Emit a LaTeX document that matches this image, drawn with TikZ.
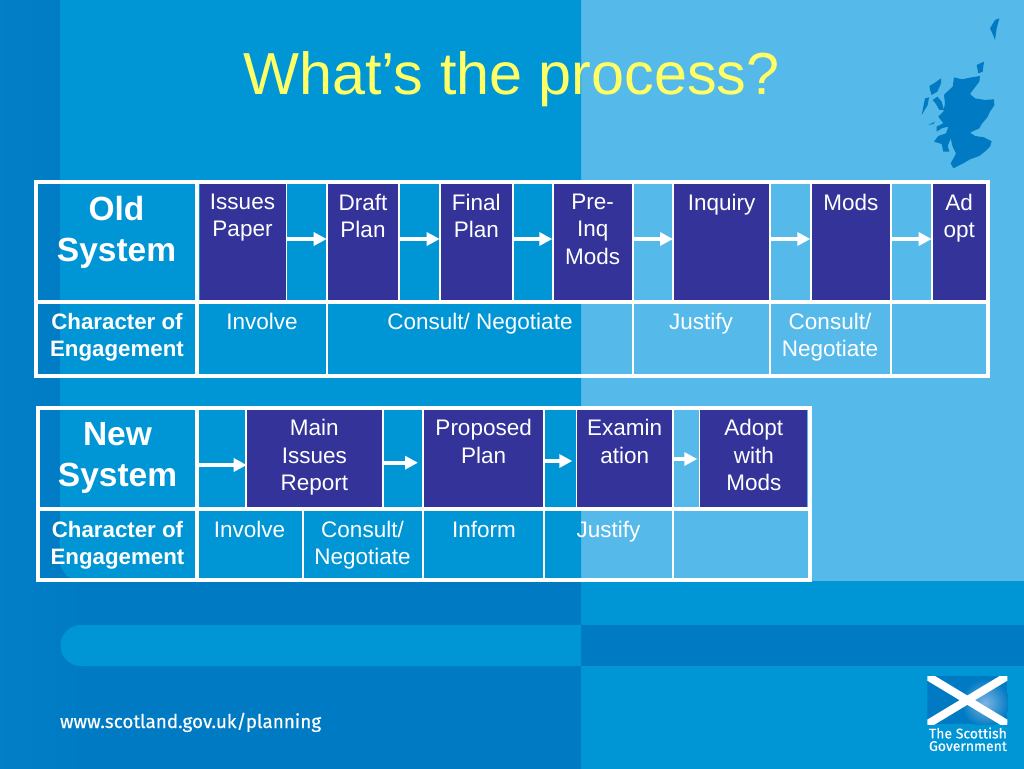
\documentclass[tikz,border=0pt]{standalone}
\usepackage{fontspec}
\usepackage{tikz}
\usetikzlibrary{arrows.meta}
\setmainfont{Liberation Sans}
\newfontfamily\webfont[FakeBold=0.35]{Fira Sans}
\definecolor{midblue}{HTML}{0096D6}
\definecolor{darkblue}{HTML}{007BC3}
\definecolor{edgeblue}{HTML}{0280C8}
\definecolor{paleblue}{HTML}{55B9E9}
\definecolor{stagefill}{HTML}{333399}
\definecolor{titleyellow}{HTML}{FFFF66}
\definecolor{flagglow}{HTML}{7DB4E2}
\begin{document}
\begin{tikzpicture}[x=1pt,y=-1pt,
    every node/.style={text=white,inner sep=0,outer sep=0,align=center},
    cell/.style={font=\fontsize{22.5}{27.5}\selectfont,anchor=north},
    head/.style={font=\fontsize{33.5}{41.5}\selectfont\bfseries,anchor=north},
    side/.style={font=\fontsize{22.3}{27.5}\selectfont\bfseries,anchor=north},
    stage/.style={fill=stagefill,minimum width=#1},
    oldstage/.style={stage=#1pt,minimum height=115.5pt},
    newstage/.style={stage=#1pt,minimum height=96.7pt},
    oldcap/.style={cell,yshift=-10pt},
    newcap/.style={cell,yshift=-9.5pt},
    frame/.style={draw=white,line width=4pt},
    thin/.style={draw=white,line width=1.8pt},
    flow/.style={draw=white,line width=3.6pt,-{Triangle[length=13pt,width=13pt]}}]
        \useasboundingbox (0,0) rectangle (1024,768);
        \fill[darkblue] (0,0) rectangle (581,770);
        \shade[left color=edgeblue,right color=darkblue] (-30,0) rectangle (90,770);
        \fill[paleblue] (581,0) rectangle (1026,581);
        \fill[midblue] (581,581) rectangle (1026,770);
        \fill[darkblue] (581,625) rectangle (1026,666);
        \fill[midblue] (60,0) -- (581,0) -- (581,581) -- (81,581) arc (90:180:21) -- cycle;
        \fill[midblue] (81,625) -- (581,625) -- (581,666) -- (81,666) arc (90:270:20.5) -- cycle;

        \node[font=\fontsize{59.3}{60}\selectfont,text=titleyellow,anchor=base] (title) at (511.5,94.5) {What’s the process?};

        \begin{scope}[shift={(880,0)},x=0.3333pt,y=-0.3333pt]
        \fill[darkblue] (222,232) -- (245,238) -- (270,233) -- (300,228) -- (298,245) -- (285,262) -- (270,282) -- (285,295) -- (315,300) -- (342,298) -- (343,316) -- (330,335) -- (322,352) -- (305,372) -- (298,385) -- (270,398) -- (285,408) -- (312,412) -- (335,424) -- (330,440) -- (318,452) -- (298,468) -- (270,478) -- (250,490) -- (220,505) -- (212,490) -- (222,472) -- (228,460) -- (218,440) -- (212,415) -- (203,438) -- (208,455) -- (190,455) -- (185,432) -- (162,425) -- (175,408) -- (198,400) -- (205,380) -- (185,385) -- (170,395) -- (170,380) -- (190,370) -- (175,350) -- (190,335) -- (195,310) -- (192,285) -- (205,272) -- (218,260) -- cycle;
        \fill[darkblue] (148,258) -- (165,248) -- (183,235) -- (183,250) -- (172,275) -- (155,285) -- (150,270) -- cycle;
        \fill[darkblue] (135,295) -- (147,292) -- (143,315) -- (125,345) -- (130,320) -- cycle;
        \fill[darkblue] (158,300) -- (172,290) -- (185,305) -- (192,330) -- (178,330) -- (168,312) -- cycle;
        \fill[darkblue] (145,375) -- (165,365) -- (160,372) -- cycle;
        \fill[darkblue] (345,60) -- (358,55) -- (350,85) -- (345,120) -- (335,95) -- (330,85) -- cycle;
        \fill[darkblue] (290,195) -- (312,185) -- (308,215) -- (295,220) -- cycle;
        \end{scope}

        \node[oldstage=86] (issues) at (242.5,241.75)
          [label={[oldcap,anchor=north]north:{Issues\\Paper}}] {};
        \node[oldstage=70.6] (draft) at (363,241.75)
          [label={[oldcap,anchor=north]north:{Draft\\Plan}}] {};
        \node[oldstage=71.3] (final) at (476.35,241.75)
          [label={[oldcap,anchor=north]north:{Final\\Plan}}] {};
        \node[oldstage=78.7] (preinq) at (592.65,241.75)
          [label={[oldcap,anchor=north]north:{Pre-\\Inq\\Mods}}] {};
        \node[oldstage=95.3] (inquiry) at (721.65,241.75)
          [label={[oldcap,anchor=north]north:{Inquiry}}] {};
        \node[oldstage=79] (mods) at (850.8,241.75)
          [label={[oldcap,anchor=north]north:{Mods}}] {};
        \node[oldstage=53] (adopt) at (959.2,241.75)
          [label={[oldcap,anchor=north]north:{Ad\\opt}}] {};

        \draw[thin] (286.5,184) -- (286.5,300) (326.8,184) -- (326.8,375) (399.2,184) -- (399.2,300)
          (439.8,184) -- (439.8,300) (512.8,184) -- (512.8,300) (552.6,184) -- (552.6,300)
          (632.8,184) -- (632.8,375) (673.2,184) -- (673.2,300) (770.2,184) -- (770.2,375)
          (810.6,184) -- (810.6,300) (891,184) -- (891,375) (932,184) -- (932,300);
        \draw[frame] (36,182) rectangle (987.7,375.6) (36,301.5) -- (987.7,301.5) (197.3,182) -- (197.3,375.6);

        \draw[flow] ([yshift=2.75pt]issues.east) -- ([yshift=2.75pt,xshift=-1pt]draft.west);
        \draw[flow] ([yshift=2.75pt]draft.east) -- ([yshift=2.75pt,xshift=-1pt]final.west);
        \draw[flow] ([yshift=2.75pt]final.east) -- ([yshift=2.75pt,xshift=-1pt]preinq.west);
        \draw[flow] ([yshift=2.75pt]preinq.east) -- ([yshift=2.75pt,xshift=-1pt]inquiry.west);
        \draw[flow] ([yshift=2.75pt]inquiry.east) -- ([yshift=2.75pt,xshift=-1pt]mods.west);
        \draw[flow] ([yshift=2.75pt]mods.east) -- ([yshift=2.75pt,xshift=-1pt]adopt.west);

        \node[head] (oldname) at (116.5,196) {Old\\System};
        \node[side] (oldchar) at (117,313) {Character of\\Engagement};
        \node[cell] (oldinvolve) at (262,313) {Involve};
        \node[cell] (oldconsult) at (480,313) {Consult/ Negotiate};
        \node[cell] (oldjustify) at (701,313) {Justify};
        \node[cell] (oldnegotiate) at (830,313) {Consult/\\Negotiate};

        \node[newstage=135.3] (main) at (314.35,458.35)
          [label={[newcap,anchor=north]north:{Main\\Issues\\Report}}] {};
        \node[newstage=119.3] (proposed) at (483.65,458.35)
          [label={[newcap,anchor=north]north:{Proposed\\Plan}}] {};
        \node[newstage=94.7] (exam) at (624.65,458.35)
          [label={[newcap,anchor=north]north:{Examin\\ation}}] {};
        \node[newstage=107] (adoptmods) at (753.8,458.35)
          [label={[newcap,anchor=north]north:{Adopt\\with\\Mods}}] {};

        \draw[thin] (245.8,410) -- (245.8,507) (302.7,509) -- (302.7,579) (382.9,410) -- (382.9,507)
          (423.1,410) -- (423.1,579) (544.2,410) -- (544.2,579) (576.4,410) -- (576.4,507)
          (673.2,410) -- (673.2,579) (699.4,410) -- (699.4,507);
        \draw[frame] (38.3,408) rectangle (809.5,579.5) (38.3,508.8) -- (809.5,508.8) (197,408) -- (197,579.5);

        \coordinate (newstart) at (198,465);
        \draw[flow] (newstart) -- (main.west |- newstart);
        \draw[flow] ([yshift=-4.35pt]main.east) -- ([yshift=-4.35pt,xshift=-6pt]proposed.west);
        \draw[flow] ([yshift=-2.65pt]proposed.east) -- ([yshift=-2.65pt,xshift=-5pt]exam.west);
        \draw[flow] ([yshift=-0.65pt]exam.east) -- ([yshift=-0.65pt,xshift=-3pt]adoptmods.west);

        \node[head] (newname) at (117.5,422) {New\\System};
        \node[side] (newchar) at (117.5,521) {Character of\\Engagement};
        \node[cell] (newinvolve) at (249.5,521) {Involve};
        \node[cell] (newconsult) at (362.5,521) {Consult/\\Negotiate};
        \node[cell] (newinform) at (484,521) {Inform};
        \node[cell] (newjustify) at (608.5,521) {Justify};

        \node[font=\webfont\fontsize{18.9}{24}\selectfont,anchor=base west] (web) at (60,728) {www.scotland.gov.uk/planning};

        \begin{scope}
        \clip (927.3,676) rectangle (1007.3,724.3);
        \fill[darkblue] (927.3,676) rectangle (1007.3,724.3);
        \shade[inner color=flagglow,outer color=darkblue] (985,703) circle (24);
        \draw[white,line width=8pt] (927.3,676) -- (1007.3,724.3) (927.3,724.3) -- (1007.3,676);
        \end{scope}
        \node[font=\webfont\fontsize{14}{12.5}\selectfont,anchor=north west,align=left] (logo) at (929,727.5) {The Scottish\\Government};
      \end{tikzpicture}
\end{document}
